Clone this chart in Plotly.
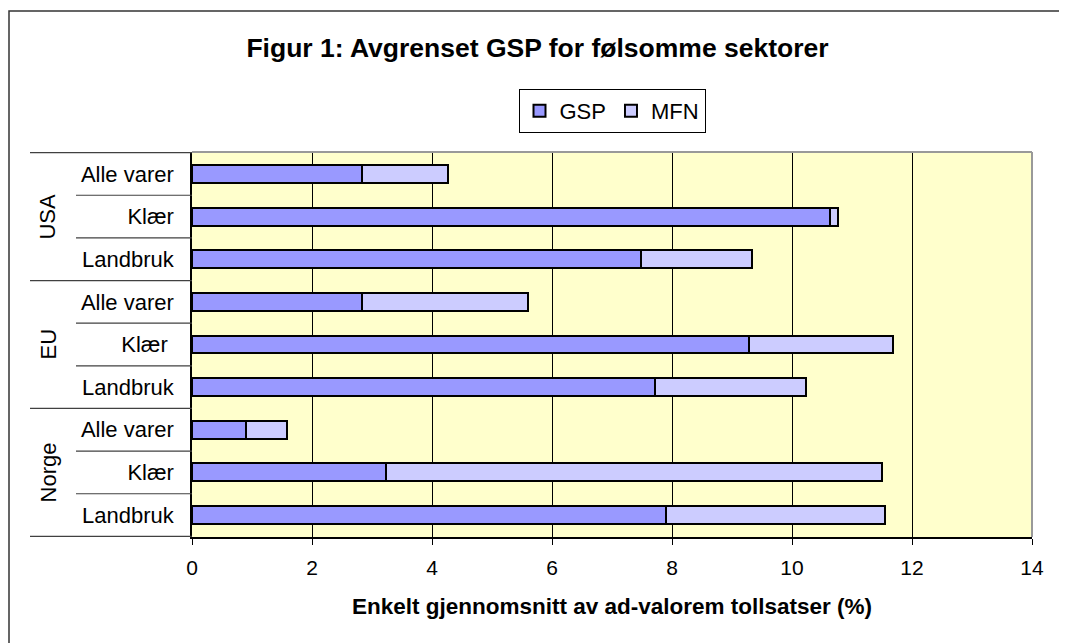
import plotly.graph_objects as go

# ---- data (top-to-bottom order as in the chart) ----
groups = ["USA", "EU", "Norge"]
sector_labels = ["Alle varer", "Klær", "Landbruk",
                 "Alle varer", "Klær\u00a0", "Landbruk",
                 "Alle varer", "Klær", "Landbruk"]
row_keys = ["USA|Alle varer", "USA|Klær", "USA|Landbruk",
            "EU|Alle varer", "EU|Klær", "EU|Landbruk",
            "Norge|Alle varer", "Norge|Klær", "Norge|Landbruk"]
gsp = [2.83, 10.63, 7.48, 2.84, 9.29, 7.71, 0.90, 3.24, 7.90]
mfn = [1.43, 0.13, 1.86, 2.76, 2.39, 2.52, 0.69, 8.26, 3.65]
x_ticks = [0, 2, 4, 6, 8, 10, 12, 14]

FONT = "Liberation Sans, Arial, sans-serif"

fig = go.Figure()
fig.add_trace(go.Bar(y=row_keys, x=gsp, orientation="h", name="GSP",
                     marker=dict(color="#9999FF", line=dict(color="black", width=2))))
fig.add_trace(go.Bar(y=row_keys, x=mfn, orientation="h", name="MFN",
                     marker=dict(color="#CCCCFF", line=dict(color="black", width=2))))

# page offset of the figure (browser body margin)
OFF = 8
# plot area geometry in page px: left 192, right 1032, top 152, bottom 537
L, R, T, B = 192 - OFF, 1032 - OFF, 152 - OFF, 537 - OFF
W, H = 1067 - OFF, 643 - OFF
pw, ph = R - L, B - T


def px_x(p):
    return (p - OFF - L) / pw


def px_y(p):
    return (B - (p - OFF)) / ph


shapes = []
# separators in the category label area
n = len(row_keys)
for k in range(n + 1):
    yb = k - 0.5
    x0 = px_x(30) if k % 3 == 0 else px_x(76)
    shapes.append(dict(type="line", xref="paper", yref="y", x0=x0, x1=0,
                       y0=yb, y1=yb, line=dict(color="#404040", width=1.2)))
# plot top and right border (gray)
shapes.append(dict(type="line", xref="paper", yref="paper", x0=0, x1=1, y0=1, y1=1,
                   line=dict(color="#999999", width=2)))
shapes.append(dict(type="line", xref="paper", yref="paper", x0=1, x1=1, y0=0, y1=1,
                   line=dict(color="#999999", width=2)))
# outer chart frame
shapes.append(dict(type="rect", xref="paper", yref="paper",
                   x0=px_x(9), x1=px_x(1100), y0=px_y(700), y1=px_y(11),
                   line=dict(color="#333333", width=1.5), layer="below"))

annotations = []
for gi, g in enumerate(groups):
    annotations.append(dict(text=g, xref="paper", yref="y", x=px_x(48), y=gi * 3 + 1,
                            textangle=-90, showarrow=False,
                            font=dict(family=FONT, size=22, color="black"),
                            xanchor="center", yanchor="middle"))

fig.update_layout(
    width=W, height=H,
    barmode="stack", bargap=0.58,
    paper_bgcolor="white", plot_bgcolor="#FFFFCC",
    margin=dict(l=L, r=W - R, t=T, b=H - B, autoexpand=False),
    font=dict(family=FONT, size=22, color="black"),
    title=dict(text="<b>Figur 1: Avgrenset GSP for følsomme sektorer</b>",
               x=0.5, xanchor="center", y=1 - (47.5 - OFF) / H, yanchor="middle",
               font=dict(family=FONT, size=26.5, color="black")),
    legend=dict(orientation="h", x=0.5, xanchor="center", y=px_y(89), yanchor="top",
                bgcolor="white", bordercolor="black", borderwidth=1,
                font=dict(family=FONT, size=22, color="black"),
                itemclick=False, traceorder="normal"),
    showlegend=True,
    shapes=shapes,
    annotations=annotations,
    xaxis=dict(range=[0, 14], tickvals=x_ticks, ticks="outside", ticklen=6,
               tickcolor="black", showline=True, linecolor="black", linewidth=1.5,
               showgrid=True, gridcolor="black", gridwidth=1, zeroline=False,
               ticklabelstandoff=5,
               tickfont=dict(family=FONT, size=21, color="black"),
               title=dict(text="<b>Enkelt gjennomsnitt av ad-valorem tollsatser (%)</b>",
                          font=dict(family=FONT, size=22.5, color="black"), standoff=20),
               fixedrange=True),
    yaxis=dict(type="category", categoryorder="array", categoryarray=row_keys,
               autorange="reversed", tickvals=row_keys, ticktext=sector_labels,
               ticks="", showline=True, linecolor="black", linewidth=1.5,
               showgrid=False, zeroline=False, ticklabelstandoff=12,
               tickfont=dict(family=FONT, size=22, color="black"),
               fixedrange=True),
)

fig.write_html("out.html")
